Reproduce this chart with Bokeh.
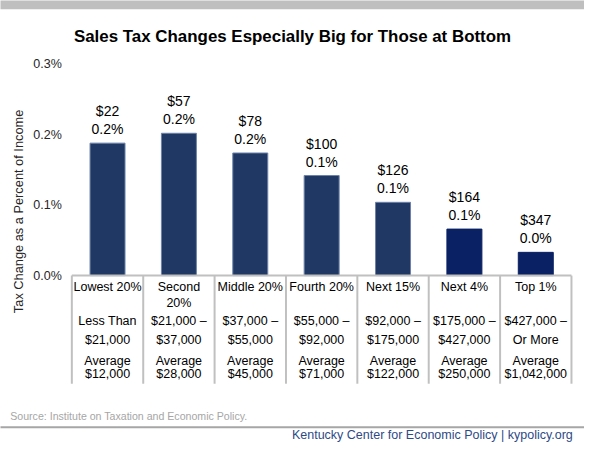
import numpy as np
from bokeh.plotting import figure
from bokeh.models import ColumnDataSource, Range1d
from bokeh.core.properties import value
from bokeh.embed import file_html
from bokeh.resources import INLINE

# ---------------- data ----------------
title_text = "Sales Tax Changes Especially Big for Those at Bottom"
groups = ["Lowest 20%", "Second\n20%", "Middle 20%", "Fourth 20%", "Next 15%", "Next 4%", "Top 1%"]
income_from = ["Less Than", "$21,000 \u2013", "$37,000 \u2013", "$55,000 \u2013", "$92,000 \u2013", "$175,000 \u2013", "$427,000 \u2013"]
income_to = ["$21,000", "$37,000", "$55,000", "$92,000", "$175,000", "$427,000", "Or More"]
average_income = ["$12,000", "$28,000", "$45,000", "$71,000", "$122,000", "$250,000", "$1,042,000"]
tax_change_pct = [0.188, 0.202, 0.174, 0.142, 0.104, 0.066, 0.033]
tax_change_dollars = [22, 57, 78, 100, 126, 164, 347]
y_ticks = [0.0, 0.1, 0.2, 0.3]
y_tick_labels = ["0.0%", "0.1%", "0.2%", "0.3%"]
y_title = "Tax Change as a Percent of Income"
source_note = "Source: Institute on Taxation and Economic Policy."
footer_text = "Kentucky Center for Economic Policy | kypolicy.org"

# ---------------- styles / layout ----------------
bar_colors = ["#1f3864"] * 5 + ["#0a2163"] * 2
bar_lines = ["#6d82a8"] * 5 + ["#0a2163"] * 2
FONT = value("Liberation Sans")
W, H = 584, 445
SX, SY = W / 600.0, H / 461.0   # reference layout -> figure pixels


def fx(rx):
    return rx * SX


def fy(ry):
    return ry * SY


X0, SLOT = fx(73.3), fx(73.33)           # left edge of first slot, slot width (px)
Y0 = fy(285.0)                           # pixel of value 0
PPU = (fy(285.0) - fy(66.0)) / 0.3       # pixels per percentage point


def dx(px):
    return (px - X0) / SLOT


def dy(py):
    return (Y0 - py) / PPU


def fs(px):
    return f"{px * SY:.1f}px"


n = len(groups)
xc = np.arange(n) + 0.5

p = figure(width=W, height=H, title=None,
           x_range=Range1d(dx(0), dx(W)), y_range=Range1d(dy(H), dy(0)),
           x_axis_type=None, y_axis_type=None,
           output_backend="svg", toolbar_location=None,
           min_border=0, outline_line_color=None,
           background_fill_color="white", border_fill_color="white")

# top grey band
p.quad(left=[dx(-10)], right=[dx(W + 10)], top=[dy(-5)], bottom=[dy(fy(9))],
       fill_color="#bfbfbf", line_color=None)

# title
p.text(x=[dx(fx(300))], y=[dy(fy(37))], text=[title_text], text_font=FONT,
       text_font_style="bold", text_font_size=fs(17.5), text_align="center",
       text_baseline="middle", text_color="#000000")

# y tick labels
p.text(x=[dx(fx(63))] * len(y_ticks), y=y_ticks, text=y_tick_labels, text_font=FONT,
       text_font_size=fs(13), text_align="right", text_baseline="middle",
       text_color="#262626")

# y axis title
p.text(x=[dx(fx(18))], y=[dy(fy(218.5))], text=[y_title], angle=np.pi / 2, text_font=FONT,
       text_font_size=fs(13.3), text_align="center", text_baseline="middle",
       text_color="#262626")

# bars
src = ColumnDataSource(dict(
    x=xc, top=tax_change_pct, color=bar_colors, lc=bar_lines,
    label=[f"${d}\n{v:.1f}%" for d, v in zip(tax_change_dollars, tax_change_pct)],
))
p.vbar(x="x", top="top", bottom=0, width=0.49, fill_color="color",
       line_color="lc", line_width=1, source=src)
p.text(x="x", y="top", text="label", source=src, text_font=FONT,
       text_font_size=fs(14.5), text_align="center", text_baseline="bottom",
       y_offset=-6, text_line_height=1.12, text_color="#000000")

# table grid
p.segment(x0=[0], x1=[n], y0=[0], y1=[0], line_color="#c0c0c0", line_width=2)
p.segment(x0=np.arange(n + 1), x1=np.arange(n + 1), y0=[0] * (n + 1),
          y1=[dy(fy(397))] * (n + 1), line_color="#c0c0c0", line_width=2)

# table texts
p.text(x=xc, y=[dy(fy(289.5))] * n, text=groups, text_font=FONT, text_font_size=fs(13),
       text_align="center", text_baseline="top", text_line_height=1.15,
       text_color="#000000")
for row, ry in ((income_from, 332), (income_to, 352), (["Average"] * n, 373),
                (average_income, 387)):
    p.text(x=xc, y=[dy(fy(ry))] * n, text=row, text_font=FONT, text_font_size=fs(13),
           text_align="center", text_baseline="middle", text_color="#000000")

# source note
p.text(x=[dx(fx(10))], y=[dy(fy(430))], text=[source_note], text_font=FONT,
       text_font_size=fs(11), text_align="left", text_baseline="middle",
       text_color="#a6a6a6")

# footer rule and text
p.segment(x0=[dx(-5)], x1=[dx(W + 5)], y0=[dy(fy(442))], y1=[dy(fy(442))],
          line_color="#a6a6a6", line_width=2)
p.text(x=[dx(fx(588))], y=[dy(fy(450))], text=[footer_text], text_font=FONT,
       text_font_size=fs(13), text_align="right", text_baseline="middle",
       text_color="#2e4a86")

open("out.html", "w").write(file_html(p, INLINE))
